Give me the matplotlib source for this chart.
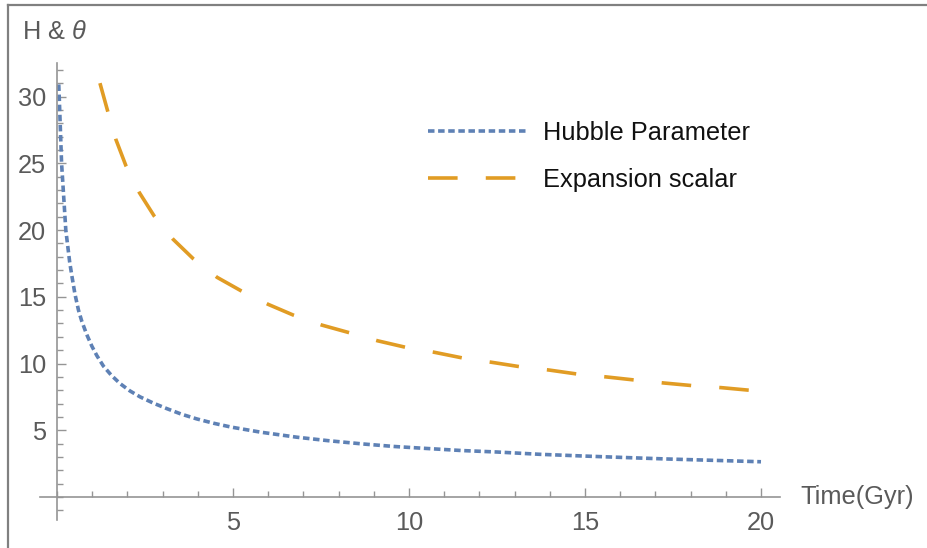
import matplotlib
matplotlib.use('Agg')
import matplotlib.pyplot as plt
from matplotlib.ticker import MultipleLocator, FixedLocator
from matplotlib.lines import Line2D

# ---- data ----
hubble_t = [0.05, 0.07, 0.13, 0.25, 0.36, 0.42, 0.51, 0.61, 0.70, 0.84, 0.99, 1.13,
            1.32, 1.55, 1.79, 2.07, 2.36, 2.74, 3.12, 3.54, 3.97, 4.44, 4.96, 5.8,
            6.81, 7.7, 8.7, 9.6, 10.6, 11.5, 12.5, 13.7, 14.95, 16.1, 17.3, 18.6, 20.0]
hubble_H = [30.9, 29.5, 25.0, 20.0, 17.6, 16.6, 15.2, 14.0, 13.2, 12.2, 11.3, 10.6,
            9.8, 9.1, 8.5, 7.95, 7.5, 7.03, 6.62, 6.2, 5.85, 5.53, 5.23, 4.85,
            4.48, 4.22, 3.97, 3.78, 3.62, 3.48, 3.37, 3.2, 3.07, 2.96, 2.85, 2.75, 2.64]

theta_t = [1.22, 1.43, 1.67, 1.96, 2.34, 2.76, 3.30, 3.87, 4.55, 5.24, 6.0, 6.71,
           7.52, 8.30, 9.11, 9.91, 10.72, 11.53, 12.35, 13.15, 13.98, 14.78, 15.62,
           16.42, 17.24, 18.06, 18.88, 19.7, 20.0]
theta_v = [31.0, 29.0, 26.8, 24.8, 22.8, 21.05, 19.3, 17.85, 16.45, 15.43, 14.43, 13.63,
           12.88, 12.31, 11.7, 11.21, 10.84, 10.41, 10.09, 9.76, 9.51, 9.21, 8.99,
           8.76, 8.54, 8.34, 8.19, 7.99, 7.95]

x_major = [5, 10, 15, 20]
y_major = [5, 10, 15, 20, 25, 30]
series_labels = ['Hubble Parameter', 'Expansion scalar']
x_label = 'Time(Gyr)'
y_label = r'H & $\theta$'

# ---- style ----
plt.rcParams['font.family'] = ['Liberation Sans', 'DejaVu Sans']
plt.rcParams['mathtext.fontset'] = 'custom'
plt.rcParams['mathtext.rm'] = 'Liberation Sans'
plt.rcParams['mathtext.it'] = 'Liberation Sans:italic'

FS = 18.3
W, H = 927, 548
fig = plt.figure(figsize=(W / 100, H / 100), dpi=100)
ax = fig.add_axes([40 / W, (H - 520) / H, 740 / W, 457 / H])
ax.set_xlim(-17 / 35.2, 723 / 35.2)
ax.set_ylim(-23 / 13.35, 434 / 13.35)

axis_color = '#959595'
label_color = '#5a5a5a'
for s in ['top', 'right']:
    ax.spines[s].set_visible(False)
ax.spines['left'].set_position(('data', 0))
ax.spines['bottom'].set_position(('data', 0))
for s in ['left', 'bottom']:
    ax.spines[s].set_color(axis_color)
    ax.spines[s].set_linewidth(1.2)

ax.xaxis.set_major_locator(FixedLocator(x_major))
ax.yaxis.set_major_locator(FixedLocator(y_major))
ax.xaxis.set_minor_locator(MultipleLocator(1))
ax.yaxis.set_minor_locator(MultipleLocator(1))
ax.tick_params(which='both', direction='in', color=axis_color, width=1.0,
               labelcolor=label_color, labelsize=FS)
ax.tick_params(which='major', length=6.5)
ax.tick_params(which='minor', length=4)
ax.tick_params(axis='x', which='major', pad=10)
ax.tick_params(axis='y', which='major', pad=8)

ax.plot(hubble_t, hubble_H, color='#5E81B5', lw=2.6, ls=(0, (1.8, 1.0)),
        dash_capstyle='butt', label=series_labels[0])
ax.plot(theta_t, theta_v, color='#E19C24', lw=2.6, ls=(0, (8.2, 7.8)),
        dash_capstyle='butt', label=series_labels[1])

leg = ax.legend(loc='upper left', bbox_to_anchor=(428 / W, 1 - 121 / H),
                bbox_transform=fig.transFigure, frameon=False, fontsize=FS,
                handlelength=3.86, handletextpad=0.66, labelspacing=0.89,
                borderpad=0, borderaxespad=0)
for t in leg.get_texts():
    t.set_color('#111111')

fig.text(800 / W, 1 - 497 / H, x_label, color=label_color, fontsize=FS,
         ha='left', va='center')
fig.text(22 / W, 1 - 32 / H, y_label, color=label_color, fontsize=FS,
         ha='left', va='center')

# outer frame (top and left edges)
frame_color = '#808080'
fig.add_artist(Line2D([8 / W, 1], [1 - 5 / H, 1 - 5 / H], transform=fig.transFigure,
                      color=frame_color, lw=1.6))
fig.add_artist(Line2D([8 / W, 8 / W], [0, 1 - 5 / H], transform=fig.transFigure,
                      color=frame_color, lw=1.6))

fig.savefig('out.png', dpi=100)
